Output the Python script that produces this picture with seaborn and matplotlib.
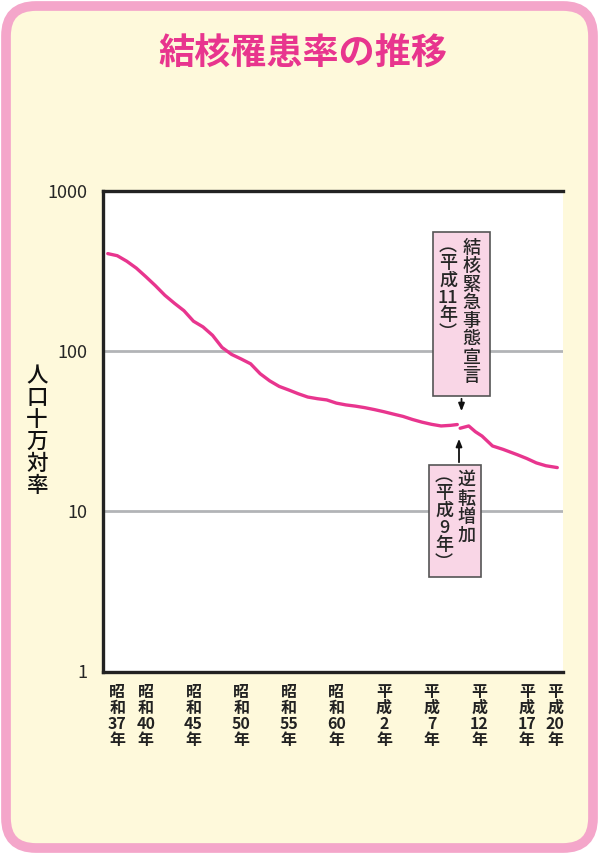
import numpy as np
import pandas as pd
import matplotlib
matplotlib.use('Agg')
import matplotlib.pyplot as plt
import seaborn as sns
from matplotlib.patches import FancyBboxPatch, Rectangle, FancyArrowPatch

sns.set_style('white')
plt.rcParams['font.family'] = ['Noto Sans CJK JP', 'DejaVu Sans']

# ---- data ----
years_a = [1961, 1962, 1963, 1964, 1965, 1966, 1967, 1968, 1969, 1970,
           1971, 1972, 1973, 1974, 1975, 1976, 1977, 1978, 1979, 1980,
           1981, 1982, 1983, 1984, 1985, 1986, 1987, 1988, 1989, 1990,
           1991, 1992, 1993, 1994, 1995, 1996, 1997, 1997.7]
rate_a = [404, 392, 362, 328, 290, 255, 222, 198, 178, 153,
          141, 125, 105, 95, 89, 83, 72, 65, 60, 57,
          54, 51.5, 50.3, 49.4, 47.2, 46, 45.2, 44.2, 43, 41.7,
          40.3, 39, 37.3, 35.9, 34.8, 34.0, 34.3, 34.7]
years_b = [1998.0, 1998.9, 1999.6, 2000.3, 2001.4, 2002.5, 2004, 2005, 2006, 2007, 2008.2]
rate_b = [32.9, 34.0, 31.3, 29.4, 25.5, 24.3, 22.5, 21.3, 20.0, 19.2, 18.7]

tick_years = [1962, 1965, 1970, 1975, 1980, 1985, 1990, 1995, 2000, 2005, 2008]
tick_labels = ['昭\n和\n37\n年', '昭\n和\n40\n年', '昭\n和\n45\n年', '昭\n和\n50\n年',
               '昭\n和\n55\n年', '昭\n和\n60\n年', '平\n成\n2\n年', '平\n成\n7\n年',
               '平\n成\n12\n年', '平\n成\n17\n年', '平\n成\n20\n年']
y_ticks = [1, 10, 100, 1000]
y_tick_labels = ['1', '10', '100', '1000']

df = pd.DataFrame({
    'year': years_a + years_b,
    'rate': rate_a + rate_b,
    'seg': ['a'] * len(years_a) + ['b'] * len(years_b),
})

W, H = 599, 856
PINK_LINE = '#E8358E'
CREAM = '#FEF9DB'
BORDER = '#F4A6CA'
BOX = '#F9D6E6'


def fx(px):
    return px / W


def fy(py):
    return 1 - py / H


fig = plt.figure(figsize=(W / 100, H / 100), dpi=100)
fig.patch.set_facecolor('white')

# rounded card background
card = FancyBboxPatch((fx(6), fy(848)), fx(593) - fx(6), fy(6) - fy(848),
                      boxstyle='round,pad=0,rounding_size=0.05',
                      transform=fig.transFigure, facecolor=CREAM,
                      edgecolor=BORDER, linewidth=7, mutation_aspect=W / H,
                      zorder=-10)
fig.patches.append(card)

fig.text(fx(303), fy(54), '結核罹患率の推移', color=PINK_LINE, fontsize=26,
         fontweight='bold', ha='center', va='center')

ax = fig.add_axes([fx(103), fy(671.5), fx(563) - fx(103), fy(190.5) - fy(671.5)])
ax.set_facecolor('white')

sns.lineplot(data=df, x='year', y='rate', units='seg', estimator=None,
             color=PINK_LINE, linewidth=2.4, ax=ax, zorder=3)

ax.set_yscale('log')
ax.set_ylim(1, 1000)
ax.set_xlim(1960.5, 2008.8)
ax.set_yticks(y_ticks)
ax.set_yticklabels(y_tick_labels)
ax.minorticks_off()
ax.set_xticks(tick_years)
ax.set_xticklabels(tick_labels, linespacing=1.0)
ax.tick_params(axis='x', length=0, pad=9, labelsize=11.5)
ax.tick_params(axis='y', length=0, pad=11, labelsize=13)
for lab in ax.get_xticklabels():
    lab.set_fontweight('bold')
    lab.set_color('#222222')
ax.set_xlabel('')
ax.set_ylabel('')

for v in [10, 100]:
    ax.axhline(v, color='#B2B4B7', linewidth=2, zorder=1)

for side in ['left', 'bottom', 'top']:
    ax.spines[side].set_color('#222222')
    ax.spines[side].set_linewidth(2.4)
ax.spines['right'].set_visible(False)

fig.text(fx(37), fy(431), '人\n口\n十\n万\n対\n率', fontsize=15.5,
         ha='center', va='center', linespacing=1.0, color='#111111',
         fontweight='medium')


# annotation boxes
def note_box(x0, y0, x1, y1):
    r = Rectangle((fx(x0), fy(y1)), fx(x1) - fx(x0), fy(y0) - fy(y1),
                  transform=fig.transFigure, facecolor=BOX,
                  edgecolor='#555555', linewidth=1.2, zorder=5)
    fig.patches.append(r)


note_box(433, 232, 490, 396)
fig.text(fx(471.5), fy(239), '結\n核\n緊\n急\n事\n態\n宣\n言', fontsize=13,
         ha='center', va='top', linespacing=1.02, zorder=6, fontweight='medium')
fig.text(fx(448), fy(237), '︵\n平\n成\n11\n年\n︶', fontsize=13,
         ha='center', va='top', linespacing=0.95, zorder=6, fontweight='medium')

note_box(429, 465, 481, 577)
fig.text(fx(466.5), fy(471), '逆\n転\n増\n加', fontsize=13,
         ha='center', va='top', linespacing=1.04, zorder=6, fontweight='medium')
fig.text(fx(444), fy(467), '︵\n平\n成\n9\n年\n︶', fontsize=13,
         ha='center', va='top', linespacing=0.95, zorder=6, fontweight='medium')

arrow = dict(arrowstyle='-|>,head_length=0.45,head_width=0.18', color='#111111', lw=1.3)
fig.add_artist(FancyArrowPatch(
    (fx(461.5), fy(396)), (fx(461.5), fy(414)), transform=fig.transFigure,
    mutation_scale=10, **arrow))
fig.add_artist(FancyArrowPatch(
    (fx(459), fy(465)), (fx(459), fy(436)), transform=fig.transFigure,
    mutation_scale=10, **arrow))

fig.savefig('out.png', dpi=100, facecolor=fig.get_facecolor())
